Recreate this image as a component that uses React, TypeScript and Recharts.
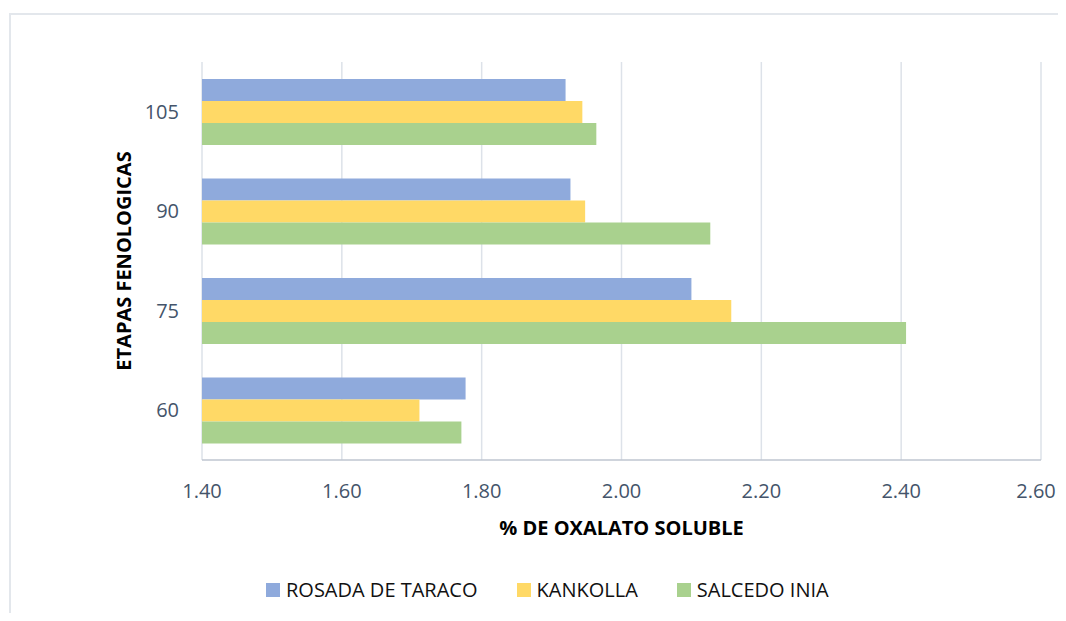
import React from "react";
import {
  BarChart,
  Bar,
  XAxis,
  YAxis,
  CartesianGrid,
  Legend,
  Label,
} from "recharts";

const etapas = ["105", "90", "75", "60"];
const rosadaDeTaraco = [1.92, 1.927, 2.1, 1.777];
const kankolla = [1.944, 1.948, 2.157, 1.711];
const salcedoInia = [1.964, 2.127, 2.407, 1.771];
const xTicks = [1.4, 1.6, 1.8, 2.0, 2.2, 2.4, 2.6];

const series = [
  { key: "rosada", name: "ROSADA DE TARACO", color: "#8FAADC" },
  { key: "kankolla", name: "KANKOLLA", color: "#FFD966" },
  { key: "salcedo", name: "SALCEDO INIA", color: "#A9D18E" },
];

const data = etapas.map((etapa, i) => ({
  etapa,
  rosada: rosadaDeTaraco[i],
  kankolla: kankolla[i],
  salcedo: salcedoInia[i],
}));

const FONT = '"Open Sans", sans-serif';
const TICK_COLOR = "#44546A";
const CHART_W = 1050;

// keeps the last label inside the visible frame
function XTick(props: any) {
  const { x, y, payload } = props;
  const label = Number(payload.value).toFixed(2);
  const half = 21;
  const cx = Math.min(x, CHART_W - half - 1);
  return (
    <text
      x={cx}
      y={y}
      dy="0.71em"
      textAnchor="middle"
      fill={TICK_COLOR}
      fontSize={20}
      fontFamily={FONT}
    >
      {label}
    </text>
  );
}

function LegendRow() {
  return (
    <div
      style={{
        display: "flex",
        alignItems: "center",
        height: 24,
        paddingLeft: 258,
        fontFamily: FONT,
        fontSize: 20,
        color: "#111",
      }}
    >
      {series.map((s) => (
        <div
          key={s.key}
          style={{
            display: "flex",
            alignItems: "center",
            marginRight: 39,
            flexShrink: 0,
          }}
        >
          <span
            style={{
              display: "inline-block",
              width: 14,
              height: 14,
              background: s.color,
              marginRight: 6,
            }}
          />
          <span style={{ lineHeight: "24px", whiteSpace: "nowrap" }}>
            {s.name}
          </span>
        </div>
      ))}
    </div>
  );
}

export default function App() {
  return (
    <div
      style={{
        width: CHART_W,
        height: 605,
        position: "relative",
        background: "#fff",
        fontFamily: FONT,
      }}
    >
      <div
        style={{
          position: "absolute",
          left: 1,
          top: 5,
          width: CHART_W,
          height: 604,
          borderLeft: "2px solid #E3E7EC",
          borderTop: "2px solid #E3E7EC",
          boxSizing: "border-box",
        }}
      />
      <BarChart
        width={CHART_W}
        height={605}
        data={data}
        layout="vertical"
        margin={{ top: 54, right: 17, left: 37, bottom: 39 }}
        barCategoryGap="17%"
        barGap={0}
        style={{ position: "absolute", left: 0, top: 0 }}
      >
        <CartesianGrid
          horizontal={false}
          stroke="#DDE2E9"
          strokeWidth={1.5}
        />
        <XAxis
          type="number"
          domain={[1.4, 2.6]}
          ticks={xTicks}
          tickLine={false}
          tickSize={0}
          tickMargin={24}
          height={90}
          axisLine={{ stroke: "#BFC6D0", strokeWidth: 1.5 }}
          tick={<XTick />}
        >
          <Label
            value="% DE OXALATO SOLUBLE"
            position="insideBottom"
            offset={15}
            style={{
              fontFamily: FONT,
              fontSize: 20,
              fontWeight: 700,
              fill: "#000",
            }}
          />
        </XAxis>
        <YAxis
          type="category"
          dataKey="etapa"
          width={157}
          axisLine={false}
          tickLine={false}
          tickSize={0}
          tickMargin={23}
          tick={{ fill: TICK_COLOR, fontSize: 20, fontFamily: FONT }}
        >
          <Label
            value="ETAPAS FENOLOGICAS"
            position="center"
            angle={-90}
            style={{
              fontFamily: FONT,
              fontSize: 20,
              fontWeight: 700,
              fill: "#000",
              textAnchor: "middle",
            }}
          />
        </YAxis>
        <Legend
          verticalAlign="bottom"
          content={() => <LegendRow />}
          wrapperStyle={{ left: 0, width: CHART_W, bottom: 11, height: 24 }}
        />
        {series.map((s) => (
          <Bar
            key={s.key}
            dataKey={s.key}
            name={s.name}
            fill={s.color}
            isAnimationActive={false}
          />
        ))}
      </BarChart>
    </div>
  );
}
